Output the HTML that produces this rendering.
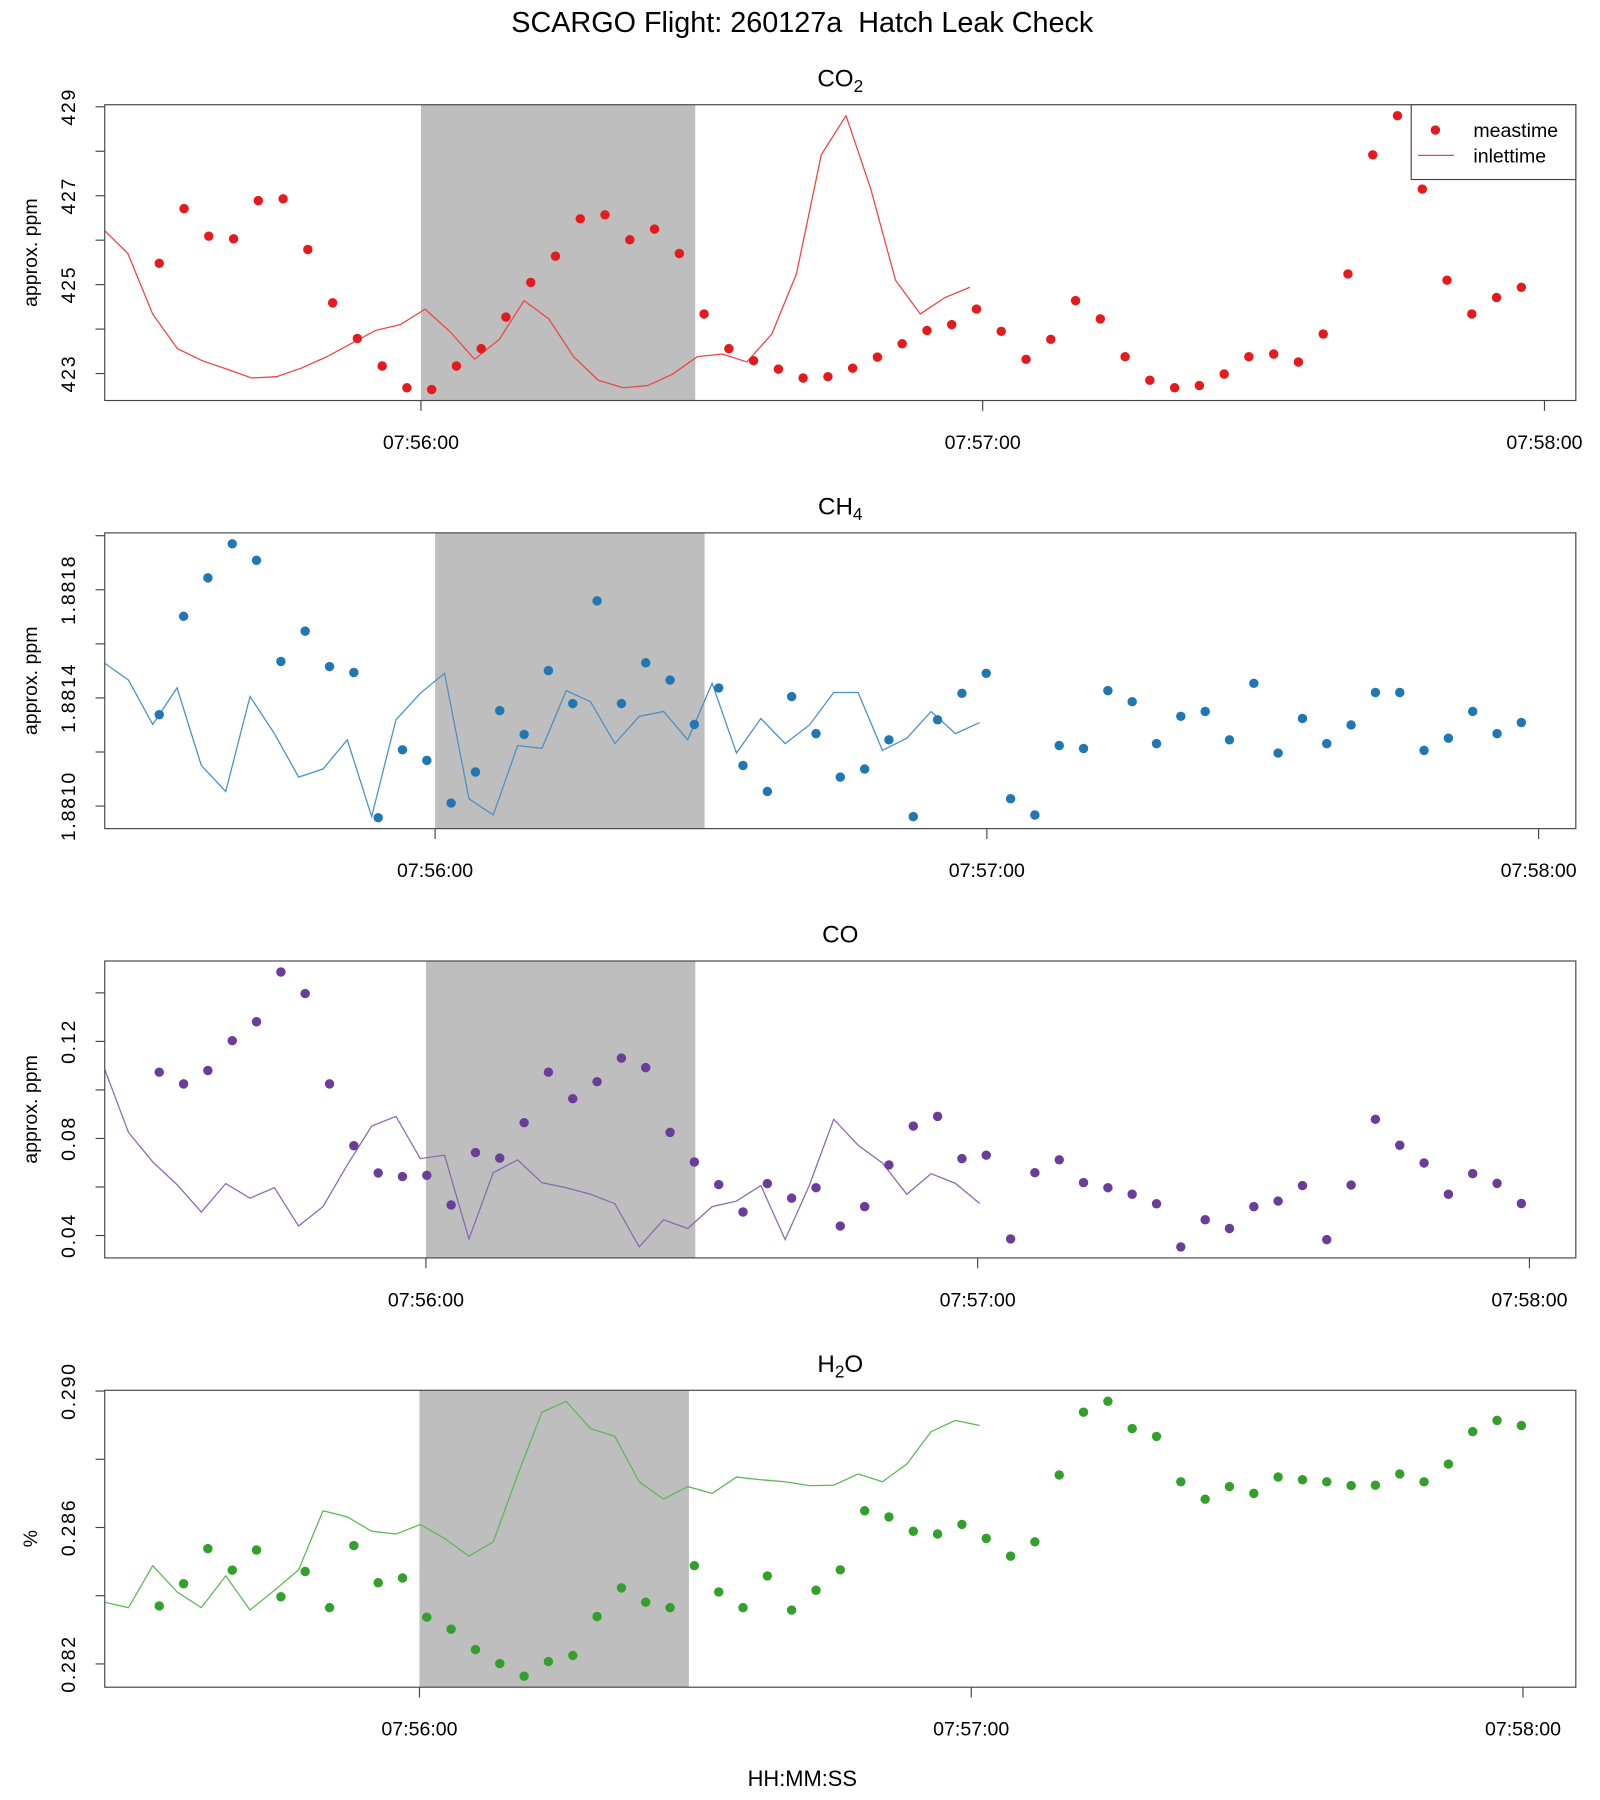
<!DOCTYPE html>
<html><head><meta charset="utf-8"><style>
html,body{margin:0;padding:0;background:#fff;}
svg{display:block;font-family:"Liberation Sans",Arial,sans-serif;}
</style></head><body>
<svg id="chart" width="1600" height="1800" viewBox="0 0 1390 1564" preserveAspectRatio="none" xmlns="http://www.w3.org/2000/svg">
<rect x="0" y="0" width="1390" height="1564" fill="#fff"/>
<text x="697" y="28" text-anchor="middle" font-size="25" fill="#000">SCARGO Flight: 260127a&#160; Hatch Leak Check</text>
<text x="697" y="1552" text-anchor="middle" font-size="19" fill="#000">HH:MM:SS</text>
<g id="panels"></g>
</svg>
<script>
// elapsed seconds of each sample from first sample
const elapsed = [0,2.65,5.29,7.94,10.58,13.23,15.87,18.52,21.16,23.81,26.45,29.10,31.74,34.39,37.03,39.68,42.32,44.97,47.61,50.26,52.90,55.55,58.19,60.84,63.48,66.13,68.77,71.42,74.06,76.71,79.35,82.00,84.64,87.29,89.93,92.58,95.22,97.87,100.51,103.16,105.80,108.45,111.09,113.74,116.38,119.03,121.67,124.32,126.96,129.61,132.25,134.90,137.54,140.19,142.83,145.48,148.12];
// first sample time per species, seconds relative to 07:56:00
const startCO2 = -27.95;
const startCH4 = -30.0;
const startCO = -29.0;
const startH2O = -28.3;
// inlet lag (s)
const inletLag = 58.9;
// leak check window (s from 07:56:00)
const shadeWindow = [0, 29.3];
const xTickSeconds = [0, 60, 120];
const xTickLabels = ["07:56:00", "07:57:00", "07:58:00"];

const co2Values = [425.48,426.71,426.09,426.03,426.89,426.93,425.79,424.59,423.79,423.17,422.68,422.64,423.17,423.56,424.27,425.05,425.64,426.48,426.57,426.01,426.25,425.70,424.34,423.56,423.29,423.10,422.90,422.93,423.12,423.37,423.67,423.97,424.10,424.45,423.95,423.32,423.77,424.64,424.23,423.38,422.85,422.68,422.73,422.99,423.38,423.44,423.26,423.89,425.24,427.92,428.80,427.15,425.10,424.34,424.71,424.94];
const ch4Values = [1.881338,1.881702,1.881844,1.881970,1.881909,1.881535,1.881647,1.881516,1.881494,1.880957,1.881208,1.881169,1.881011,1.881126,1.881353,1.881265,1.881501,1.881379,1.881759,1.881379,1.881530,1.881466,1.881302,1.881437,1.881150,1.881054,1.881405,1.881268,1.881107,1.881137,1.881245,1.880961,1.881319,1.881417,1.881491,1.881027,1.880967,1.881224,1.881213,1.881427,1.881386,1.881231,1.881332,1.881350,1.881245,1.881454,1.881196,1.881324,1.881231,1.881300,1.881420,1.881420,1.881206,1.881251,1.881350,1.881268,1.881309];
const coValues = [0.1073,0.1025,0.1080,0.1203,0.1281,0.1486,0.1397,0.1025,0.0770,0.0658,0.0643,0.0648,0.0526,0.0742,0.0719,0.0865,0.1073,0.0964,0.1034,0.1131,0.1092,0.0825,0.0703,0.0610,0.0497,0.0614,0.0554,0.0597,0.0439,0.0519,0.0691,0.0851,0.0891,0.0717,0.0731,0.0386,0.0659,0.0712,0.0618,0.0597,0.0570,0.0531,0.0353,0.0465,0.0429,0.0519,0.0542,0.0606,0.0383,0.0608,0.0879,0.0772,0.0699,0.0570,0.0655,0.0615,0.0532];
const h2oValues = [0.28370,0.28435,0.28538,0.28475,0.28534,0.28397,0.28471,0.28365,0.28547,0.28438,0.28452,0.28337,0.28302,0.28242,0.28201,0.28164,0.28207,0.28225,0.28339,0.28423,0.28381,0.28365,0.28488,0.28411,0.28365,0.28458,0.28358,0.28416,0.28476,0.28649,0.28631,0.28589,0.28581,0.28609,0.28568,0.28516,0.28558,0.28754,0.28938,0.28970,0.28890,0.28867,0.28734,0.28683,0.28720,0.28700,0.28748,0.28740,0.28734,0.28723,0.28724,0.28757,0.28734,0.28786,0.28881,0.28914,0.28899];

const co2YTicks = [423,424,425,426,427,428,429];
const co2YLabels = ["423","","425","","427","","429"];
const ch4YTicks = [1.8810,1.8812,1.8814,1.8816,1.8818,1.8820];
const ch4YLabels = ["1.8810","","1.8814","","1.8818",""];
const coYTicks = [0.04,0.06,0.08,0.10,0.12,0.14];
const coYLabels = ["0.04","","0.08","","0.12",""];
const h2oYTicks = [0.282,0.284,0.286,0.288,0.290];
const h2oYLabels = ["0.282","","0.286","","0.290"];

const NS = "http://www.w3.org/2000/svg";
const root = document.getElementById('panels');
function mk(tag, attrs, parent){
  const e = document.createElementNS(NS, tag);
  for (const k in attrs) e.setAttribute(k, attrs[k]);
  (parent||root).appendChild(e);
  return e;
}

const panels = [
  {key:'co2', title:['CO','2'], start:startCO2, values:co2Values, color:'#E41A1C', lineColor:'#EE4444', top:91, bottom:348, yTicks:co2YTicks, yLabels:co2YLabels, ylab:'approx. ppm', legend:true},
  {key:'ch4', title:['CH','4'], start:startCH4, values:ch4Values, color:'#1F78B4', lineColor:'#4A8FC6', top:463, bottom:720, yTicks:ch4YTicks, yLabels:ch4YLabels, ylab:'approx. ppm'},
  {key:'co', title:['CO',''], start:startCO, values:coValues, color:'#6A3D9A', lineColor:'#8A68B2', top:835, bottom:1093, yTicks:coYTicks, yLabels:coYLabels, ylab:'approx. ppm'},
  {key:'h2o', title:['H','2','O'], start:startH2O, values:h2oValues, color:'#33A02C', lineColor:'#5CB856', top:1208, bottom:1466, yTicks:h2oYTicks, yLabels:h2oYLabels, ylab:'%'}
];
const L = 91, R = 1369;

panels.forEach(function(p){
  const g = mk('g', {});
  
  
  const n = p.values.length;
  const times = elapsed.slice(0, n).map(function(e){ return p.start + e; });
  const tmin = Math.min.apply(null, times), tmax = Math.max.apply(null, times);
  const tr = tmax - tmin;
  const x0 = tmin - 0.04*tr, x1 = tmax + 0.04*tr;
  const vmin = Math.min.apply(null, p.values), vmax = Math.max.apply(null, p.values);
  const vr = vmax - vmin;
  const y0 = vmin - 0.04*vr, y1 = vmax + 0.04*vr;
  const xs = function(t){ return L + (t - x0)/(x1 - x0)*(R - L); };
  const ys = function(v){ return p.bottom - (v - y0)/(y1 - y0)*(p.bottom - p.top); };

  const clipId = 'clip-' + p.key;
  const cp = mk('clipPath', {id: clipId}, g);
  mk('rect', {x:L, y:p.top, width:R-L, height:p.bottom-p.top}, cp);

  const shade = mk('rect', {x:xs(shadeWindow[0]), y:p.top, width:xs(shadeWindow[1])-xs(shadeWindow[0]), height:p.bottom-p.top, fill:'#BEBEBE'}, g);
  
  

  const pts = times.map(function(t,i){ return xs(t - inletLag).toFixed(1) + ',' + ys(p.values[i]).toFixed(1); }).join(' ');
  const line = mk('polyline', {points:pts, fill:'none', stroke:p.lineColor, 'stroke-width':1.1, 'clip-path':'url(#'+clipId+')'}, g);
  
  

  times.forEach(function(t,i){
    const c = mk('circle', {cx:xs(t), cy:ys(p.values[i]), r:4.1, fill:p.color, 'clip-path':'url(#'+clipId+')'}, g);
    
    
  });

  const box = mk('rect', {x:L, y:p.top, width:R-L, height:p.bottom-p.top, fill:'none', stroke:'#444', 'stroke-width':1}, g);
  
  

  xTickSeconds.forEach(function(s,i){
    const x = xs(s);
    mk('line', {x1:x, y1:p.bottom, x2:x, y2:p.bottom+9, stroke:'#444', 'stroke-width':1}, g);
    const tx = mk('text', {x:x, y:p.bottom+42, 'text-anchor':'middle', 'font-size':17, fill:'#000'}, g);
    tx.textContent = xTickLabels[i];
    
    
  });

  p.yTicks.forEach(function(v,i){
    const y = ys(v);
    mk('line', {x1:L-8, y1:y, x2:L, y2:y, stroke:'#444', 'stroke-width':1}, g);
    if (p.yLabels[i]) {
      const ty = mk('text', {x:0, y:0, transform:'translate(65,'+y.toFixed(1)+') rotate(-90)', 'text-anchor':'middle', 'font-size':17, 'letter-spacing':'1.5', fill:'#000'}, g);
      ty.textContent = p.yLabels[i];
      
      
    }
  });

  const yl = mk('text', {x:0, y:0, transform:'translate(32,'+((p.top+p.bottom)/2).toFixed(1)+') rotate(-90)', 'text-anchor':'middle', 'font-size':17, fill:'#000'}, g);
  yl.textContent = p.ylab;
  
  

  const tt = mk('text', {x:730, y:p.top-16, 'text-anchor':'middle', 'font-size':21, fill:'#000'}, g);
  
  
  const s1 = mk('tspan', {}, tt); s1.textContent = p.title[0];
  if (p.title[1]) { const s2 = mk('tspan', {'font-size':15, dy:5}, tt); s2.textContent = p.title[1]; }
  if (p.title[2]) { const s3 = mk('tspan', {dy:-5}, tt); s3.textContent = p.title[2]; }

  if (p.legend) {
    const lg = mk('g', {}, g);
    
    
    mk('rect', {x:1226, y:p.top, width:R-1226, height:65, fill:'#fff', stroke:'#444', 'stroke-width':1}, lg);
    mk('circle', {cx:1247, cy:p.top+22, r:4.1, fill:p.color}, lg);
    const t1 = mk('text', {x:1280, y:p.top+28, 'font-size':17, fill:'#000'}, lg);
    t1.textContent = 'meastime';
    
    
    mk('line', {x1:1232, y1:p.top+44, x2:1263, y2:p.top+44, stroke:p.lineColor, 'stroke-width':1.1}, lg);
    const t2 = mk('text', {x:1280, y:p.top+50, 'font-size':17, fill:'#000'}, lg);
    t2.textContent = 'inlettime';
    
    
  }
});
</script>
</body></html>
